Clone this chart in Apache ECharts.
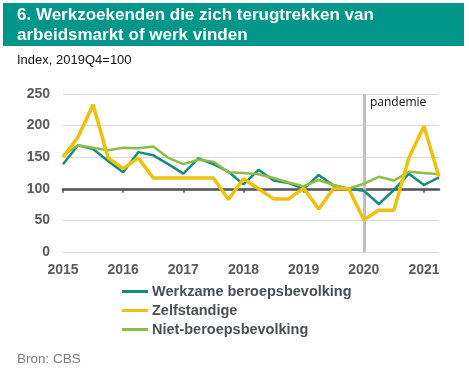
<!DOCTYPE html>
<html><head><meta charset="utf-8">
<script src="https://cdn.jsdelivr.net/npm/echarts@6/dist/echarts.min.js"></script>
<style>html,body{margin:0;padding:0;background:#fff}#c{width:469px;height:373px}</style>
</head><body><div id="c"></div>
<script>
const quarters = ['2015Q1','2015Q2','2015Q3','2015Q4','2016Q1','2016Q2','2016Q3','2016Q4','2017Q1','2017Q2','2017Q3','2017Q4','2018Q1','2018Q2','2018Q3','2018Q4','2019Q1','2019Q2','2019Q3','2019Q4','2020Q1','2020Q2','2020Q3','2020Q4','2021Q1','2021Q2'];
const werkzame = [139,169,163,144, 126,158,153,139, 124,148,139,127, 107,130,113,109, 100,122,105,100, 97,76,98,124, 106,118];
const zelfstandige = [150,182,233,149, 132,149,117,117, 117,117,117,83, 116,100,84,84, 101,68,101,100, 51,66,66,149, 199,119];
const nietBeroeps = [153,169,165,161, 165,164,167,149, 139,146,143,126, 125,123,117,110, 104,114,106,100, 108,119,113,127, 125,123];
const yTicks = {min:0, max:250, interval:50};
const seriesNames = ['Werkzame beroepsbevolking','Zelfstandige','Niet-beroepsbevolking'];

const chart = echarts.init(document.getElementById('c'));
const gridTop = 94, gridBottom = 121, gridH = 373 - gridTop - gridBottom;
const refOffset = -gridH * 100 / yTicks.max;
const axisGray = '#5a5a5a';
chart.setOption({
  animation:false,
  textStyle:{fontFamily:'Liberation Sans, Arial, sans-serif'},
  graphic:[
    {type:'rect', shape:{x:3,y:3,width:461,height:43}, style:{fill:'#00968a'}},
    {type:'text', left:17, top:5, style:{text:'6. Werkzoekenden die zich terugtrekken van\narbeidsmarkt of werk vinden', fill:'#fff', font:'bold 17px "Liberation Sans", Arial, sans-serif', lineHeight:20}},
    {type:'text', left:17, top:54, style:{text:'Index, 2019Q4=100', fill:'#111', font:'13px "Liberation Sans", Arial, sans-serif'}},
    {type:'text', left:370, top:97, style:{text:'pandemie', fill:'#111', font:'12px "Open Sans", sans-serif'}},
    {type:'text', left:17, top:352, style:{text:'Bron: CBS', fill:'#7f7f7f', font:'13.5px "Liberation Sans", Arial, sans-serif'}}
  ],
  legend:{
    orient:'vertical', left:122, top:284, padding:0, itemWidth:26, itemHeight:3, itemGap:4, icon:'rect',
    textStyle:{fontSize:14.5, fontWeight:'bold', color:'#4a5056', lineHeight:14, padding:[0,0,0,-1]},
    data:seriesNames
  },
  grid:{left:63, right:30, top:gridTop, bottom:gridBottom},
  xAxis:[
    {type:'category', data:quarters, boundaryGap:false,
     axisLine:{show:false}, axisTick:{show:false},
     axisLabel:{interval:3, formatter:v=>v.slice(0,4), fontSize:14, fontWeight:'bold', color:axisGray, margin:11}},
    {type:'category', data:quarters, boundaryGap:false, position:'bottom', offset:refOffset,
     axisLine:{show:true, lineStyle:{color:'#4d5358', width:2.5}},
     axisTick:{show:true, interval:3, length:4, lineStyle:{color:'#4d5358', width:1.5}},
     axisLabel:{show:false}}
  ],
  yAxis:{type:'value', min:yTicks.min, max:yTicks.max, interval:yTicks.interval,
    axisLine:{show:false}, axisTick:{show:false},
    axisLabel:{fontSize:14, fontWeight:'bold', color:axisGray, margin:13},
    splitLine:{lineStyle:{color:'#d9d9d9', width:1}}},
  series:[
    {name:seriesNames[0], type:'line', data:werkzame, symbol:'none', z:3,
     lineStyle:{color:'#138b7d', width:2.5}, itemStyle:{color:'#138b7d'},
     markLine:{silent:true, symbol:'none', label:{show:false}, z:1,
       lineStyle:{color:'#bfbfbf', width:3, type:'solid'},
       data:[{xAxis:'2020Q1'}]}},
    {name:seriesNames[2], type:'line', data:nietBeroeps, symbol:'none', z:4,
     lineStyle:{color:'#8cbd45', width:2.5}, itemStyle:{color:'#8cbd45'}},
    {name:seriesNames[1], type:'line', data:zelfstandige, symbol:'none', z:5,
     lineStyle:{color:'#f0c10a', width:3.5}, itemStyle:{color:'#f0c10a'}}
  ]
});
</script></body></html>
